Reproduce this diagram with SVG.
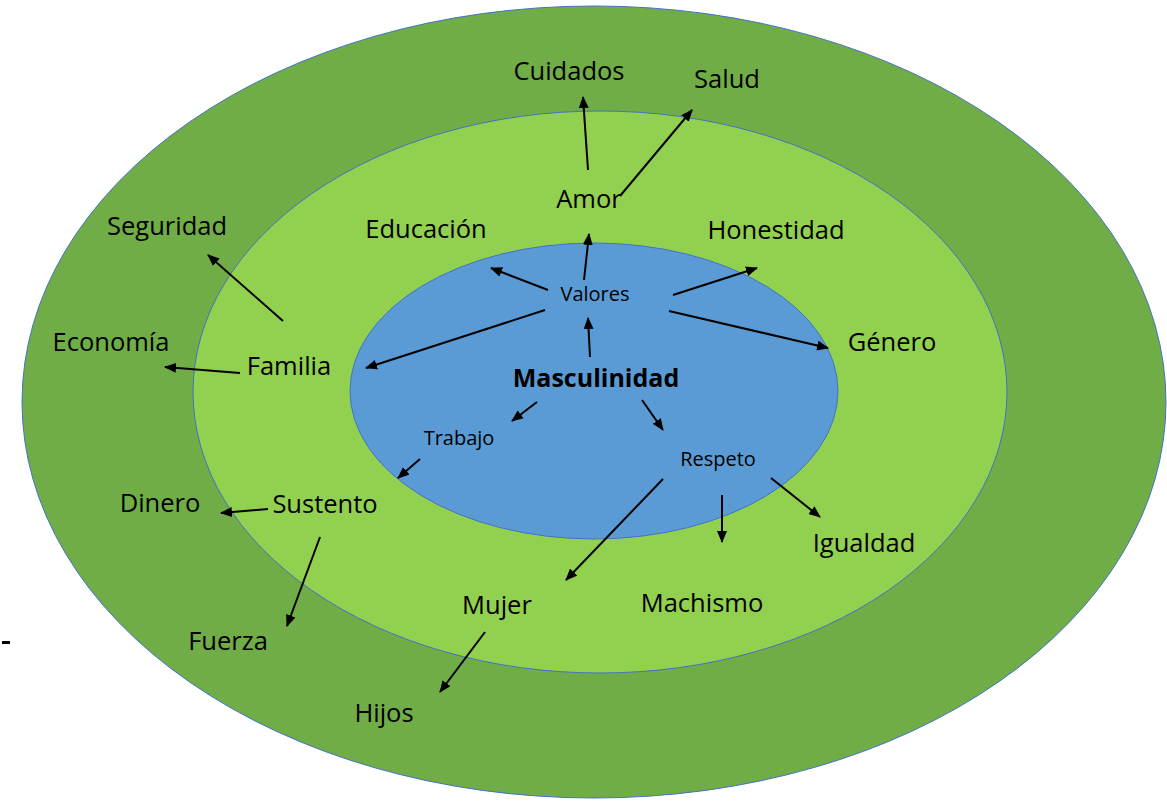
<svg xmlns="http://www.w3.org/2000/svg" width="1167" height="802" viewBox="0 0 1167 802">
<style>
.t{font-family:"Open Sans",Lato,sans-serif;font-size:25.5px;fill:#000;text-anchor:middle}
.s{font-size:20px}
.b{font-weight:bold;font-size:25px}
.ring{stroke:#4472C4;stroke-width:1}
.c line{stroke:#000;stroke-width:2;marker-end:url(#ah)}
</style>
<defs>
<marker id="ah" markerUnits="userSpaceOnUse" markerWidth="12" markerHeight="10" refX="11" refY="5" orient="auto">
<path d="M0,0 L12,5 L0,10 z" fill="#000"/>
</marker>
</defs>
<rect width="1167" height="802" fill="#fff"/>
<g id="outer"><ellipse class="ring" cx="594" cy="402" rx="572" ry="396" fill="#70AD47"/></g>
<g id="middle"><ellipse class="ring" cx="600" cy="392" rx="407" ry="281" fill="#92D050"/></g>
<g id="inner"><ellipse class="ring" cx="594" cy="391" rx="244" ry="148" fill="#5B9BD5"/></g>
<g class="c" id="connectors">
<line x1="588" y1="170" x2="583" y2="97"/>
<line x1="620" y1="196" x2="692" y2="110"/>
<line x1="584" y1="280" x2="589" y2="234"/>
<line x1="548" y1="290" x2="491" y2="268"/>
<line x1="673" y1="295" x2="757" y2="268"/>
<line x1="545" y1="310" x2="366" y2="368"/>
<line x1="669" y1="311" x2="828" y2="348"/>
<line x1="590" y1="357" x2="588" y2="318"/>
<line x1="537" y1="402" x2="512" y2="421"/>
<line x1="642" y1="400" x2="663" y2="430"/>
<line x1="420" y1="459" x2="398" y2="478"/>
<line x1="663" y1="479" x2="566" y2="580"/>
<line x1="722" y1="495" x2="722" y2="542"/>
<line x1="771" y1="478" x2="820" y2="517"/>
<line x1="283" y1="321" x2="208" y2="255"/>
<line x1="240" y1="373" x2="165" y2="367"/>
<line x1="268" y1="509" x2="221" y2="513"/>
<line x1="320" y1="537" x2="287" y2="626"/>
<line x1="485" y1="632" x2="440" y2="692"/>
</g>
<g id="n-cuidados"><text class="t" x="569" y="80">Cuidados</text></g>
<g id="n-salud"><text class="t" x="727" y="88">Salud</text></g>
<g id="n-amor"><text class="t" x="589" y="208">Amor</text></g>
<g id="n-educacion"><text class="t" x="426" y="238">Educación</text></g>
<g id="n-honestidad"><text class="t" x="776" y="239">Honestidad</text></g>
<g id="n-seguridad"><text class="t" x="167" y="235">Seguridad</text></g>
<g id="n-economia"><text class="t" x="111" y="351">Economía</text></g>
<g id="n-familia"><text class="t" x="289" y="375">Familia</text></g>
<g id="n-genero"><text class="t" x="892" y="351">Género</text></g>
<g id="n-valores"><text class="t s" x="595" y="301">Valores</text></g>
<g id="n-masculinidad"><text class="t b" x="596" y="387">Masculinidad</text></g>
<g id="n-trabajo"><text class="t s" x="459" y="445">Trabajo</text></g>
<g id="n-respeto"><text class="t s" x="718" y="466">Respeto</text></g>
<g id="n-dinero"><text class="t" x="160" y="512">Dinero</text></g>
<g id="n-sustento"><text class="t" x="325" y="513">Sustento</text></g>
<g id="n-igualdad"><text class="t" x="864" y="552">Igualdad</text></g>
<g id="n-mujer"><text class="t" x="497" y="614">Mujer</text></g>
<g id="n-machismo"><text class="t" x="702" y="612">Machismo</text></g>
<g id="n-fuerza"><text class="t" x="228" y="650">Fuerza</text></g>
<g id="n-hijos"><text class="t" x="384" y="722">Hijos</text></g>
<g id="dash"><rect x="2" y="641" width="8" height="3" fill="#000"/></g>
</svg>
